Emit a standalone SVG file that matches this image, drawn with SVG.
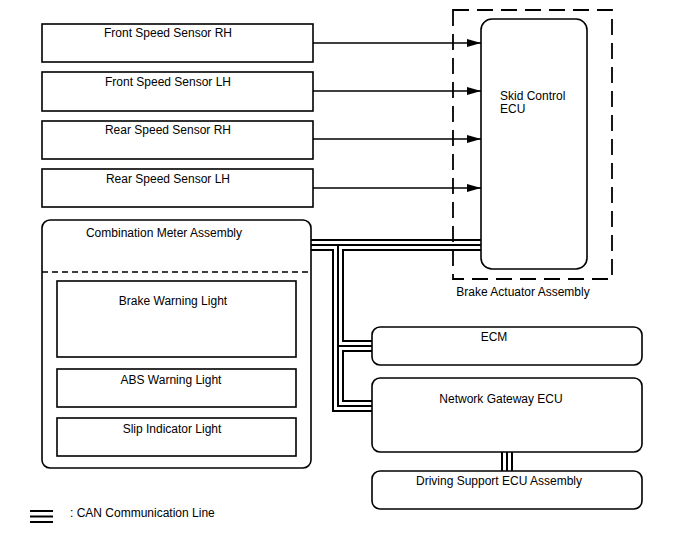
<svg xmlns="http://www.w3.org/2000/svg" width="688" height="560" viewBox="0 0 688 560">
<defs>
<marker id="arr" viewBox="0 0 14 8" refX="14" refY="4" markerWidth="14" markerHeight="8" markerUnits="userSpaceOnUse" orient="auto">
<path d="M0,0 L14,4 L0,8 Z" fill="#000"/>
</marker>
</defs>
<style>
.box{fill:#fff;stroke:#000;stroke-width:1.6}
.t{font-family:"Liberation Sans",Arial,sans-serif;font-size:12px;fill:#000}
.m{text-anchor:middle}
.arrow{stroke:#000;stroke-width:1.4;fill:none;marker-end:url(#arr)}
.can{stroke:#000;stroke-width:2;fill:none}
.dash{fill:none;stroke:#000;stroke-width:1.8;stroke-dasharray:16 8}
</style>
<rect width="688" height="560" fill="#fff"/>

<g id="brake-actuator">
<rect class="dash" x="453" y="10" width="159" height="269"/>
<text class="t m" x="523" y="296">Brake Actuator Assembly</text>
</g>

<g id="skid-control-ecu">
<rect class="box" x="481" y="19" width="106" height="250" rx="11"/>
<text class="t" x="500" y="100">Skid Control</text>
<text class="t" x="500" y="113">ECU</text>
</g>

<g id="front-rh">
<rect class="box" x="42" y="24" width="271" height="38"/>
<text class="t m" x="168" y="37">Front Speed Sensor RH</text>
</g>
<g id="front-lh">
<rect class="box" x="42" y="72" width="271" height="39"/>
<text class="t m" x="168" y="86">Front Speed Sensor LH</text>
</g>
<g id="rear-rh">
<rect class="box" x="42" y="121" width="271" height="38"/>
<text class="t m" x="168" y="134">Rear Speed Sensor RH</text>
</g>
<g id="rear-lh">
<rect class="box" x="42" y="169" width="271" height="38"/>
<text class="t m" x="168" y="183">Rear Speed Sensor LH</text>
</g>

<g id="combination-meter">
<rect class="box" x="42" y="220" width="269" height="248" rx="8"/>
<text class="t m" x="164" y="237">Combination Meter Assembly</text>
<line x1="42" y1="272" x2="311" y2="272" stroke="#000" stroke-width="1.4" stroke-dasharray="6 4"/>
</g>
<g id="brake-warning">
<rect class="box" x="57" y="281" width="239" height="76"/>
<text class="t m" x="173" y="305">Brake Warning Light</text>
</g>
<g id="abs-warning">
<rect class="box" x="57" y="369" width="239" height="38"/>
<text class="t m" x="171" y="384">ABS Warning Light</text>
</g>
<g id="slip-indicator">
<rect class="box" x="57" y="418" width="239" height="38"/>
<text class="t m" x="172" y="433">Slip Indicator Light</text>
</g>

<g id="ecm">
<rect class="box" x="372" y="327" width="270" height="38" rx="8"/>
<text class="t m" x="494" y="341">ECM</text>
</g>
<g id="network-gateway">
<rect class="box" x="372" y="378" width="270" height="74" rx="8"/>
<text class="t m" x="501" y="403">Network Gateway ECU</text>
</g>
<g id="driving-support">
<rect class="box" x="372" y="471" width="270" height="38" rx="8"/>
<text class="t m" x="499" y="485">Driving Support ECU Assembly</text>
</g>

<g id="connectors">
<line class="arrow" x1="313" y1="43" x2="481" y2="43"/>
<line class="arrow" x1="313" y1="91" x2="481" y2="91"/>
<line class="arrow" x1="313" y1="139" x2="481" y2="139"/>
<line class="arrow" x1="313" y1="188" x2="481" y2="188"/>

<line class="can" x1="311" y1="240" x2="481" y2="240"/>
<line class="can" x1="311" y1="245" x2="481" y2="245"/>
<polyline class="can" points="311,250 333,250 333,411 372,411"/>
<polyline class="can" points="481,250 343,250 343,341 372,341"/>
<polyline class="can" points="338,245 338,406 372,406"/>
<line class="can" x1="338" y1="346" x2="372" y2="346"/>
<polyline class="can" points="372,351 343,351 343,401 372,401"/>

<line class="can" x1="502" y1="452" x2="502" y2="471"/>
<line class="can" x1="507" y1="452" x2="507" y2="471"/>
<line class="can" x1="512" y1="452" x2="512" y2="471"/>
</g>

<g id="legend">
<line x1="30" y1="511" x2="53" y2="511" stroke="#000" stroke-width="2"/>
<line x1="30" y1="516.5" x2="53" y2="516.5" stroke="#000" stroke-width="2"/>
<line x1="30" y1="522" x2="53" y2="522" stroke="#000" stroke-width="2"/>
<text class="t" x="70" y="517">: CAN Communication Line</text>
</g>
</svg>
